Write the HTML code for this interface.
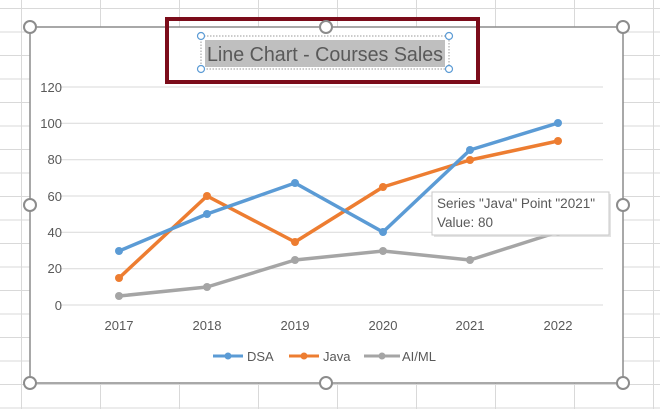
<!DOCTYPE html>
<html><head><style>
body{margin:0;width:660px;height:409px;overflow:hidden;font-family:"Liberation Sans",sans-serif;
background-color:#fff;
background-image:linear-gradient(to right,#d9d9d9 1px,transparent 1px),linear-gradient(to bottom,#d9d9d9 1px,transparent 1px);
background-size:79px 23.5px;background-position:21px 8px;}
</style></head><body>
<svg width="660" height="409" style="position:absolute;left:0;top:0" font-family="Liberation Sans, sans-serif">
<rect x="30" y="27" width="593" height="356" fill="#fff" stroke="#8c8c8c" stroke-width="1.5"/>
<g stroke="#d9d9d9" stroke-width="1">
<line x1="60" x2="603" y1="87" y2="87"/><line x1="60" x2="603" y1="123.3" y2="123.3"/>
<line x1="60" x2="603" y1="159.7" y2="159.7"/><line x1="60" x2="603" y1="196" y2="196"/>
<line x1="60" x2="603" y1="232.3" y2="232.3"/><line x1="60" x2="603" y1="268.7" y2="268.7"/>
<line x1="60" x2="603" y1="305" y2="305"/></g>
<g font-size="13" fill="#595959" text-anchor="end">
<text x="62" y="92">120</text><text x="62" y="128">100</text><text x="62" y="164">80</text>
<text x="62" y="201">60</text><text x="62" y="237">40</text><text x="62" y="273">20</text><text x="62" y="310">0</text></g>
<g font-size="13" fill="#595959" text-anchor="middle">
<text x="119" y="330">2017</text><text x="207" y="330">2018</text><text x="295" y="330">2019</text>
<text x="383" y="330">2020</text><text x="470" y="330">2021</text><text x="558" y="330">2022</text></g>
<g fill="none" stroke-width="3.5" stroke-linejoin="round">
<polyline stroke="#a5a5a5" points="119,296 207,287 295,260 383,251 470,260 558,232"/>
<polyline stroke="#ed7d31" points="119,278 207,196 295,242 383,187 470,160 558,141"/>
<polyline stroke="#5b9bd5" points="119,251 207,214 295,183 383,232 470,150 558,123"/>
</g>
<g fill="#a5a5a5"><circle cx="119" cy="296" r="4"/><circle cx="207" cy="287" r="4"/><circle cx="295" cy="260" r="4"/><circle cx="383" cy="251" r="4"/><circle cx="470" cy="260" r="4"/><circle cx="558" cy="232" r="4"/></g>
<g fill="#ed7d31"><circle cx="119" cy="278" r="4"/><circle cx="207" cy="196" r="4"/><circle cx="295" cy="242" r="4"/><circle cx="383" cy="187" r="4"/><circle cx="470" cy="160" r="4"/><circle cx="558" cy="141" r="4"/></g>
<g fill="#5b9bd5"><circle cx="119" cy="251" r="4"/><circle cx="207" cy="214" r="4"/><circle cx="295" cy="183" r="4"/><circle cx="383" cy="232" r="4"/><circle cx="470" cy="150" r="4"/><circle cx="558" cy="123" r="4"/></g>
<g font-size="13" fill="#595959">
<line x1="213" x2="243" y1="356" y2="356" stroke="#5b9bd5" stroke-width="3"/><circle cx="228" cy="356" r="3.5" fill="#5b9bd5"/><text x="247" y="361">DSA</text>
<line x1="289" x2="319" y1="356" y2="356" stroke="#ed7d31" stroke-width="3"/><circle cx="304" cy="356" r="3.5" fill="#ed7d31"/><text x="323" y="361">Java</text>
<line x1="364" x2="400" y1="356" y2="356" stroke="#a5a5a5" stroke-width="3"/><circle cx="382" cy="356" r="3.5" fill="#a5a5a5"/><text x="402" y="361">AI/ML</text></g>
<rect x="434" y="194" width="177" height="43" fill="#d0d0d0" opacity="0.6"/>
<rect x="432" y="192" width="177" height="43" fill="#fff" stroke="#c8c8c8"/>
<text x="437" y="208" font-size="13.5" fill="#595959">Series "Java" Point "2021"</text>
<text x="437" y="227" font-size="13.5" fill="#595959">Value: 80</text>
<rect x="167" y="19" width="311" height="63" fill="none" stroke="#7b0c1a" stroke-width="4"/>
<rect x="201" y="36" width="248" height="33" fill="none" stroke="#999" stroke-dasharray="1.5,1.5"/>
<rect x="205" y="40" width="240" height="27" fill="#bfbfbf"/>
<text x="207" y="61" font-size="20" fill="#595959" textLength="236" lengthAdjust="spacingAndGlyphs">Line Chart - Courses Sales</text>
<g fill="#fff" stroke="#5b9bd5" stroke-width="1.2">
<circle cx="201" cy="36" r="3.5"/><circle cx="449" cy="36" r="3.5"/><circle cx="201" cy="69" r="3.5"/><circle cx="449" cy="69" r="3.5"/></g>
<g fill="#fff" stroke="#8c8c8c" stroke-width="2">
<circle cx="30" cy="27" r="6"/><circle cx="326" cy="27" r="6"/><circle cx="623" cy="27" r="6"/>
<circle cx="30" cy="205" r="6"/><circle cx="623" cy="205" r="6"/>
<circle cx="30" cy="383" r="6"/><circle cx="326" cy="383" r="6"/><circle cx="623" cy="383" r="6"/></g>
</svg>
</body></html>
